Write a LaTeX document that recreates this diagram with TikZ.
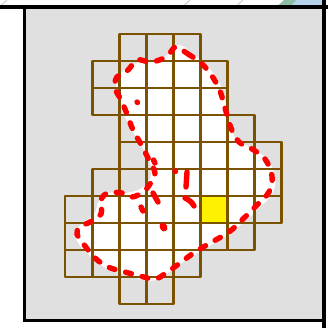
\documentclass[tikz,border=0pt]{standalone}
\usetikzlibrary{calc}
\definecolor{gridbrown}{RGB}{122,82,0}
\definecolor{panelgray}{RGB}{224,224,224}
\definecolor{tealish}{RGB}{140,190,165}
\definecolor{lightblue}{RGB}{180,210,236}
\tikzset{
  cellbox/.style={draw=gridbrown,line width=2.9pt,line join=round},
  reddash/.style={draw=red,line width=5.4pt,line cap=round,dash pattern=on 6pt off 11pt},
  redbit/.style={draw=red,line width=5.4pt,line cap=round},
  frameline/.style={draw=black,line width=3.8pt},
}
\begin{document}
\begin{tikzpicture}[x=1pt,y=-1pt]
\useasboundingbox (0,0) rectangle (328,328);
\fill[white] (0,0) rectangle (328,328);
% top strip decoration
\draw[gray!45,line width=0.8pt] (7,0) -- (1,5.5);
\draw[gray!45,line width=0.8pt] (190,0) -- (184,5.5);
\draw[gray!45,line width=0.8pt] (243,0) -- (237,5.5);
\fill[tealish] (284,0) -- (297,0) -- (291,5.5) -- (278,5.5) -- cycle;
\fill[lightblue] (297,0) -- (322,0) -- (322,5.5) -- (291,5.5) -- cycle;
% panel
\fill[panelgray] (24,7) rectangle (324,320);
% white blob
\fill[white] plot[smooth cycle,tension=0.7] coordinates {
 (178,45) (193,54) (208,67) (219,82) (225,100) (229,120) (236,139) (251,148) (267,159) (275,177)
 (272,194) (259,208) (244,222) (226,236) (206,248) (186,260) (166,274) (150,281) (130,276)
 (108,269) (91,257) (79,244) (75,232) (83,223) (94,214) (99,201) (108,193) (125,193) (142,188)
 (151,176) (149,160) (141,145) (132,130) (124,115) (118,98) (116,83) (122,72) (134,64) (150,61)
 (165,57)};
% yellow cell
\fill[yellow] (65+5*27.1,34+6*27) rectangle (65+6*27.1,34+7*27);
% grid
\foreach \r/\a/\b in {0/2/4,1/1/5,2/1/5,3/2/6,4/2/7,5/1/7,6/0/7,7/0/6,8/0/4,9/2/3}{
  \foreach \c in {\a,...,\b}{
    \draw[cellbox] (65+\c*27.1,34+\r*27) rectangle (65+\c*27.1+27.1,34+\r*27+27);
  }
}
% red dashed outline
\draw[reddash] plot[smooth cycle,tension=0.6] coordinates {
 (176,47) (188,54) (201,63) (212,76) (220,91) (225,108) (231,128) (239,142) (252,149) (265,159)
 (272,176) (269,192) (257,205) (243,219) (229,232) (212,242) (195,252) (180,263) (166,273)
 (155,279) (140,276) (125,272) (108,267) (95,258) (85,246) (77,234) (80,227) (90,222) (101,214)
 (101,200) (108,193) (122,193) (132,197) (143,192) (150,184) (155,173) (149,160) (142,146)
 (133,130) (127,114) (121,100) (115,88) (117,77) (128,70) (137,60) (150,62) (162,59) (170,53)};
% extra red bits inside
\draw[redbit] (137,102) -- (137.5,102.5);
\draw[redbit] (153.5,160) -- (155,163);
\draw[redbit] (175,171) -- (175.5,171.5);
\draw[redbit] (187,172) -- (186,187);
\draw[redbit] (185,198) .. controls (189,200) and (192,202) .. (194,206);
\draw[redbit] (153,193) -- (158,202);
\draw[redbit] (141,207) -- (143,211);
\draw[redbit,line width=7pt] (163,226) -- (164,228);
% frame lines
\draw[frameline] (0,7.3) -- (328,7.3);
\draw[frameline] (24.5,7) -- (24.5,320.5);
\draw[frameline] (23,320.5) -- (324,320.5);
\draw[draw=black,line width=4pt] (324,0) -- (324,328);
\end{tikzpicture}
\end{document}
